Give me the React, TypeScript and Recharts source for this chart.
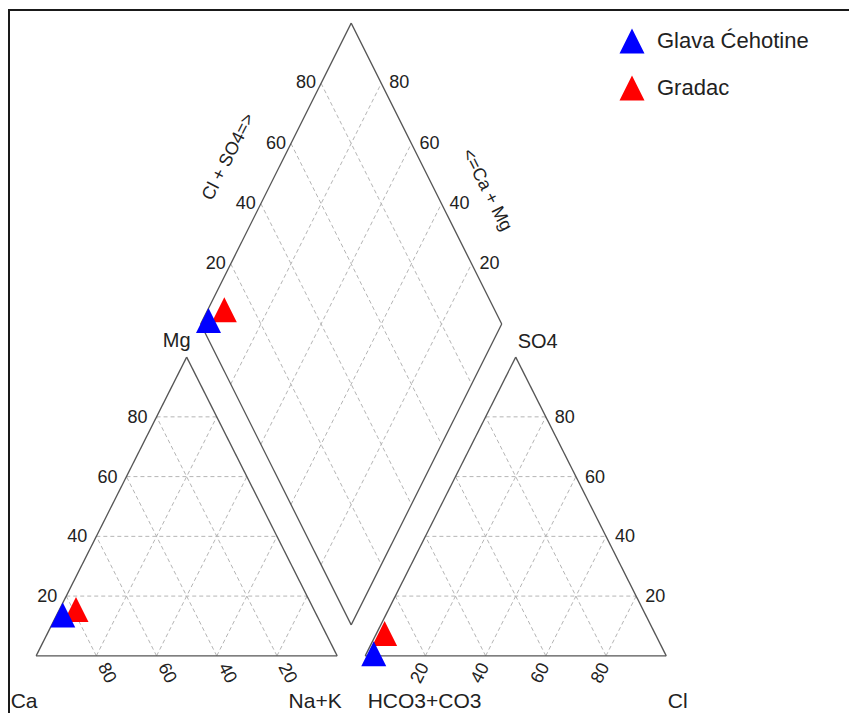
import React from 'react';
import { ScatterChart, Scatter, XAxis, YAxis, ReferenceLine, ReferenceDot } from 'recharts';

const samples = ['Glava Ćehotine', 'Gradac'];
const colors = ['#0000ff', '#ff0000'];
// cations, % meq/l
const ca = [84.3, 79];
const mg = [13.7, 15.5];
const naK = [2, 5.5];
// anions, % meq/l
const hco3 = [96.8, 89.8];
const so4 = [0.7, 7.5];
const cl = [2.5, 2.7];

const gridTicks = [20, 40, 60, 80];

// layout (chart units)
const H = 99.3; // triangle height
const OX = 109.3; // offset of the anion triangle
const D0 = 10.3; // bottom of the diamond
const LX = (100 + OX) / 2 - 50;
const LY = D0 + 100;

const cat = (m: number, n: number) => ({ x: n + m / 2, y: (H * m) / 100 });
const an = (s: number, c: number) => ({ x: OX + c + s / 2, y: (H * s) / 100 });
const dia = (a: number, c: number) => ({ x: LX + a / 2 + c / 2, y: LY + a - c });

const FONT = '"Liberation Sans", Arial, sans-serif';
const TXT = '#222';

const seriesData = samples.map((name, i) => [
  { ...cat(mg[i], naK[i]), ca: ca[i] },
  { ...an(so4[i], cl[i]), hco3: hco3[i] },
  dia(so4[i] + cl[i], naK[i]),
]);

const Tri = (p: any) => {
  const { cx, cy, fill } = p;
  if (cx == null || cy == null) return null;
  return <polygon points={`${cx - 12.5},${cy + 12.5} ${cx + 12.5},${cy + 12.5} ${cx},${cy - 12.5}`} fill={fill} />;
};

type Seg = [{ x: number; y: number }, { x: number; y: number }];

const outlines: Seg[] = [
  [cat(0, 0), cat(0, 100)],
  [cat(0, 100), cat(100, 0)],
  [cat(100, 0), cat(0, 0)],
  [an(0, 0), an(0, 100)],
  [an(0, 100), an(100, 0)],
  [an(100, 0), an(0, 0)],
  [dia(0, 0), dia(100, 0)],
  [dia(100, 0), dia(100, 100)],
  [dia(100, 100), dia(0, 100)],
  [dia(0, 100), dia(0, 0)],
];

const grid: Seg[] = [];
gridTicks.forEach((p) => {
  grid.push([cat(p, 0), cat(p, 100 - p)]);
  grid.push([cat(0, p), cat(100 - p, p)]);
  grid.push([cat(0, 100 - p), cat(100 - p, 0)]);
  grid.push([an(p, 0), an(p, 100 - p)]);
  grid.push([an(0, p), an(100 - p, p)]);
  grid.push([an(0, 100 - p), an(100 - p, 0)]);
  grid.push([dia(p, 0), dia(p, 100)]);
  grid.push([dia(0, p), dia(100, p)]);
});

type Lbl = { pt: { x: number; y: number }; text: string; dx: number; dy: number; anchor?: string; rotate?: number; size?: number };
const labels: Lbl[] = [];
gridTicks.forEach((p) => {
  labels.push({ pt: cat(p, 0), text: String(p), dx: -9, dy: 6, anchor: 'end' });
  labels.push({ pt: cat(0, 100 - p), text: String(p), dx: 11, dy: 17, rotate: 63 });
  labels.push({ pt: an(p, 100 - p), text: String(p), dx: 9, dy: 6, anchor: 'start' });
  labels.push({ pt: an(0, p), text: String(p), dx: -6, dy: 17, rotate: -63 });
  labels.push({ pt: dia(p, 0), text: String(p), dx: -5, dy: 5, anchor: 'end' });
  labels.push({ pt: dia(100, 100 - p), text: String(p), dx: 8, dy: 5, anchor: 'start' });
});
labels.push({ pt: dia(50, 0), text: 'Cl + SO4=>', dx: -48, dy: -17, rotate: -63 });
labels.push({ pt: dia(100, 50), text: '<=Ca + Mg', dx: 61, dy: 16, rotate: 63 });
labels.push({ pt: cat(100, 0), text: 'Mg', dx: -10, dy: -10, size: 20 });
labels.push({ pt: an(100, 0), text: 'SO4', dx: 2, dy: -9, anchor: 'start', size: 20 });
labels.push({ pt: cat(0, 0), text: 'Ca', dx: -25.5, dy: 52, anchor: 'start', size: 21 });
labels.push({ pt: cat(0, 100), text: 'Na+K', dx: 4.5, dy: 52, anchor: 'end', size: 21 });
labels.push({ pt: an(0, 0), text: 'HCO3+CO3', dx: 2.5, dy: 52, anchor: 'start', size: 21 });
labels.push({ pt: an(0, 100), text: 'Cl', dx: 1.5, dy: 52, anchor: 'start', size: 21 });

const renderLabel = (l: Lbl) => (p: any) => {
  const x = p.cx + l.dx;
  const y = p.cy + l.dy;
  if (l.rotate) {
    return (
      <text x={x} y={y} transform={`rotate(${l.rotate} ${x} ${y})`} textAnchor="middle" dominantBaseline="central"
        fontSize={l.size || 18} fontFamily={FONT} fill={TXT}>{l.text}</text>
    );
  }
  return (
    <text x={x} y={y} textAnchor={l.anchor || 'middle'} fontSize={l.size || 18} fontFamily={FONT} fill={TXT}>{l.text}</text>
  );
};

const LegendBox = () => (
  <div style={{ position: 'absolute', left: 619, top: 17, fontFamily: FONT, fontSize: 22, color: TXT }}>
    {samples.map((s, i) => (
      <div key={s} style={{ display: 'flex', alignItems: 'center', height: 47 }}>
        <svg width={26} height={26} style={{ marginRight: 12 }}>
          <polygon points="0.5,25.5 25.5,25.5 13,0.5" fill={colors[i]} />
        </svg>
        <span>{s}</span>
      </div>
    ))}
  </div>
);

export default function App() {
  return (
    <div style={{ position: 'absolute', left: 0, top: 0, width: 849, height: 713, background: '#fff', overflow: 'hidden' }}>
      <div style={{ position: 'absolute', left: 8, top: 9, right: 0, bottom: 0, borderTop: '2px solid #1a1a1a', borderLeft: '2px solid #1a1a1a' }} />
      <ScatterChart width={849} height={713} margin={{ top: 0, right: 0, bottom: 0, left: 0 }}>
        <XAxis type="number" dataKey="x" domain={[-12, 270]} hide allowDataOverflow />
        <YAxis type="number" dataKey="y" domain={[-19, 218]} hide allowDataOverflow />
        {grid.map((s, i) => (
          <ReferenceLine key={`g${i}`} segment={s} stroke="#b5b5b5" strokeWidth={1} strokeDasharray="4 3" ifOverflow="visible" />
        ))}
        {outlines.map((s, i) => (
          <ReferenceLine key={`o${i}`} segment={s} stroke="#555" strokeWidth={1.3} ifOverflow="visible" />
        ))}
        {labels.map((l, i) => (
          <ReferenceDot key={`l${i}`} x={l.pt.x} y={l.pt.y} r={0} ifOverflow="visible" shape={renderLabel(l)} />
        ))}
        {[1, 0].map((i) => (
          <Scatter key={samples[i]} name={samples[i]} data={seriesData[i]} fill={colors[i]} isAnimationActive={false}
            shape={(p: any) => <Tri {...p} fill={colors[i]} />} />
        ))}
      </ScatterChart>
      <LegendBox />
    </div>
  );
}
